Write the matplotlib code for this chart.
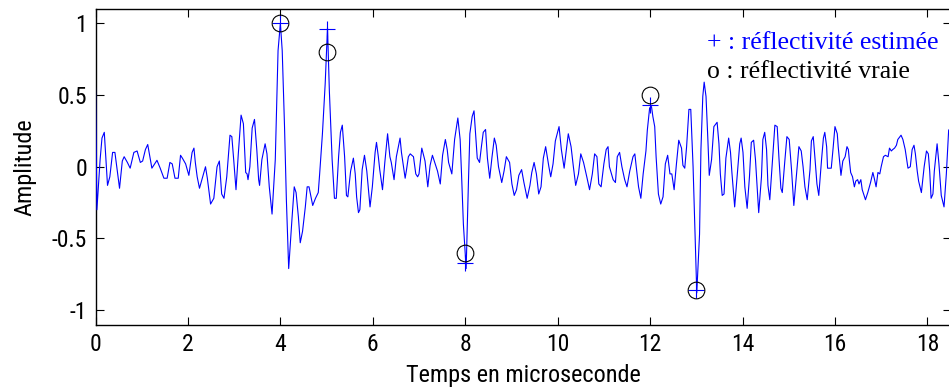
import matplotlib
matplotlib.use("Agg")
import matplotlib.pyplot as plt

# Signal estimé (vertices du tracé) : temps en µs, amplitude
t_sig = [0.00, 0.03, 0.10, 0.14, 0.19, 0.26, 0.31, 0.37, 0.42, 0.52, 0.58, 0.62, 0.69, 0.75, 0.83, 0.90,
         0.97, 1.02, 1.08, 1.13, 1.22, 1.33, 1.40, 1.48, 1.55, 1.61, 1.66, 1.72, 1.79, 1.84, 1.88, 1.95,
         2.02, 2.09, 2.13, 2.16, 2.20, 2.25, 2.31, 2.38, 2.42, 2.49, 2.56, 2.63, 2.68, 2.73, 2.78, 2.84,
         2.91, 2.95, 2.99, 3.04, 3.09, 3.15, 3.20, 3.25, 3.28, 3.30, 3.34, 3.39, 3.44, 3.49, 3.53, 3.55,
         3.60, 3.67, 3.71, 3.76, 3.82, 3.89, 3.95, 4.00, 4.04, 4.09, 4.13, 4.18, 4.25, 4.30, 4.34, 4.39,
         4.43, 4.48, 4.54, 4.58, 4.62, 4.70, 4.76, 4.82, 4.85, 4.91, 4.97, 5.02, 5.06, 5.12, 5.17, 5.21,
         5.26, 5.30, 5.34, 5.39, 5.43, 5.46, 5.52, 5.58, 5.62, 5.65, 5.69, 5.72, 5.77, 5.82, 5.87, 5.94,
         5.99, 6.05, 6.08, 6.12, 6.15, 6.21, 6.26, 6.32, 6.37, 6.40, 6.46, 6.51, 6.59, 6.62, 6.70, 6.73,
         6.77, 6.81, 6.88, 6.93, 6.97, 7.00, 7.06, 7.13, 7.19, 7.24, 7.29, 7.35, 7.40, 7.46, 7.51, 7.57,
         7.61, 7.64, 7.71, 7.77, 7.84, 7.89, 7.92, 7.96, 8.02, 8.07, 8.10, 8.15, 8.19, 8.22, 8.26, 8.31,
         8.35, 8.39, 8.44, 8.48, 8.53, 8.58, 8.63, 8.67, 8.72, 8.79, 8.84, 8.89, 8.96, 9.01, 9.06, 9.11,
         9.16, 9.22, 9.27, 9.34, 9.40, 9.44, 9.49, 9.54, 9.59, 9.64, 9.69, 9.74, 9.81, 9.85, 9.90, 9.95,
         10.03, 10.08, 10.14, 10.19, 10.23, 10.29, 10.34, 10.39, 10.45, 10.50, 10.56, 10.63, 10.69, 10.75,
         10.80, 10.85, 10.89, 10.94, 11.00, 11.05, 11.09, 11.12, 11.20, 11.25, 11.29, 11.34, 11.39, 11.45,
         11.50, 11.56, 11.63, 11.67, 11.70, 11.75, 11.80, 11.85, 11.91, 11.94, 11.99, 12.03, 12.06, 12.10,
         12.13, 12.18, 12.23, 12.28, 12.33, 12.38, 12.43, 12.47, 12.52, 12.57, 12.62, 12.68, 12.71, 12.75,
         12.79, 12.84, 12.88, 12.93, 12.98, 13.01, 13.07, 13.10, 13.14, 13.17, 13.21, 13.25, 13.28, 13.33,
         13.38, 13.45, 13.49, 13.52, 13.56, 13.60, 13.64, 13.70, 13.74, 13.77, 13.83, 13.89, 13.94, 13.97,
         14.01, 14.05, 14.10, 14.15, 14.19, 14.24, 14.28, 14.32, 14.35, 14.41, 14.44, 14.48, 14.52, 14.55,
         14.59, 14.65, 14.70, 14.75, 14.79, 14.83, 14.86, 14.91, 14.96, 15.01, 15.06, 15.11, 15.17, 15.22,
         15.27, 15.31, 15.35, 15.40, 15.46, 15.49, 15.53, 15.57, 15.61, 15.65, 15.71, 15.75, 15.78, 15.82,
         15.84, 15.92, 15.96, 16.00, 16.05, 16.07, 16.13, 16.17, 16.22, 16.26, 16.29, 16.31, 16.34, 16.38,
         16.42, 16.45, 16.49, 16.52, 16.56, 16.59, 16.66, 16.71, 16.77, 16.82, 16.85, 16.89, 16.93, 16.97,
         17.00, 17.05, 17.09, 17.15, 17.18, 17.22, 17.25, 17.29, 17.33, 17.36, 17.43, 17.47, 17.52, 17.58,
         17.63, 17.67, 17.71, 17.74, 17.78, 17.81, 17.87, 17.93, 17.98, 18.02, 18.05, 18.08, 18.12, 18.15,
         18.21, 18.25, 18.30, 18.36, 18.41, 18.46, 18.50]

a_sig = [0.55, -0.30, 0.05, 0.20, 0.24, -0.13, -0.07, 0.10, 0.10, -0.15, 0.04, 0.07, 0.03, -0.01, 0.10, 0.11,
         0.03, 0.04, 0.12, 0.155, -0.01, 0.045, -0.01, -0.08, -0.08, 0.03, 0.02, -0.08, -0.08, 0.08, 0.06, 0.02,
         -0.06, 0.10, 0.13, 0.03, -0.07, -0.15, -0.08, 0.00, -0.08, -0.26, -0.22, 0.00, 0.04, -0.19, -0.22, -0.07,
         0.22, 0.21, 0.05, -0.16, 0.09, 0.36, 0.30, -0.04, -0.05, -0.09, 0.00, 0.27, 0.33, 0.12, -0.09, -0.13,
         0.05, 0.16, 0.09, -0.14, -0.33, 0.05, 0.81, 1.00, 0.81, 0.28, -0.23, -0.71, -0.37, -0.14, -0.18, -0.35,
         -0.53, -0.45, -0.28, -0.14, -0.14, -0.27, -0.22, -0.18, -0.05, 0.23, 0.58, 0.97, 0.53, 0.05, -0.22, -0.22,
         0.07, 0.24, 0.29, 0.07, -0.20, -0.21, -0.03, 0.06, -0.05, -0.21, -0.32, -0.30, -0.02, 0.08, -0.03, -0.28,
         -0.14, 0.10, 0.17, 0.07, -0.02, -0.16, 0.03, 0.23, 0.07, 0.03, -0.09, 0.07, 0.20, 0.10, -0.08, -0.02,
         0.07, 0.09, 0.07, -0.05, -0.07, -0.05, 0.13, 0.04, -0.14, 0.01, 0.08, 0.02, -0.03, -0.12, 0.08, 0.19,
         0.12, 0.03, -0.05, 0.19, 0.34, 0.19, -0.05, -0.40, -0.71, -0.10, 0.23, 0.35, 0.39, 0.25, 0.06, 0.03,
         0.14, 0.24, 0.26, 0.06, -0.08, 0.07, 0.20, 0.15, 0.00, -0.11, -0.03, 0.07, 0.03, -0.12, -0.20, -0.16,
         -0.06, -0.02, -0.11, -0.22, -0.13, -0.04, 0.03, -0.05, -0.19, -0.14, 0.06, 0.14, 0.00, -0.07, 0.02, 0.18,
         0.28, 0.12, -0.01, 0.12, 0.23, 0.14, 0.00, -0.13, -0.05, 0.09, 0.03, -0.07, -0.16, -0.05,
         0.09, 0.07, -0.12, -0.14, 0.02, 0.12, 0.14, 0.00, -0.09, -0.11, 0.07, 0.10, 0.00, -0.09,
         -0.14, -0.03, 0.07, 0.09, 0.00, -0.14, -0.22, -0.05, 0.11, 0.255, 0.41, 0.42, 0.35, 0.28,
         0.07, -0.19, -0.26, -0.21, 0.02, 0.08, -0.05, -0.05, -0.16, 0.02, 0.185, 0.13, 0.01, -0.01,
         0.14, 0.40, 0.40, 0.00, -0.56, -0.88, -0.47, 0.12, 0.49, 0.59, 0.49, 0.19, -0.06, 0.05,
         0.28, 0.31, 0.16, -0.05, -0.20, -0.19, 0.06, 0.20, 0.10, -0.04, -0.28, -0.04, 0.16, 0.20,
         0.10, -0.14, -0.29, -0.07, 0.17, 0.185, 0.05, -0.16, -0.32, -0.07, 0.19, 0.24, 0.12, -0.13,
         -0.23, 0.05, 0.29, 0.28, 0.05, -0.15, -0.18, 0.02, 0.21, 0.19, -0.02, -0.27, -0.05, 0.14,
         0.11, 0.00, -0.14, -0.23, -0.02, 0.18, 0.21, 0.05, -0.12, -0.20, 0.05, 0.20, 0.24, 0.14,
         -0.01, -0.01, 0.13, 0.28, 0.23, 0.14, -0.06, 0.04, 0.07, 0.14, 0.12, 0.05, -0.04, -0.07,
         -0.14, -0.10, -0.09, -0.12, -0.09, -0.16, -0.23, -0.18, -0.11, -0.04, -0.08, -0.14, -0.04, -0.05,
         0.00, 0.07, 0.08, 0.07, 0.13, 0.11, 0.12, 0.13, 0.15, 0.19, 0.22, 0.19, 0.12, -0.01,
         0.00, 0.12, 0.15, 0.09, -0.03, -0.10, -0.18, 0.00, 0.11, 0.09, -0.03, -0.22, -0.19, -0.03,
         0.16, 0.02, -0.20, -0.28, -0.05, 0.255, 0.27]

# Réflectivités aux instants des interfaces
t_refl = [4, 5, 8, 12, 13]
refl_vraie = [1.00, 0.80, -0.60, 0.50, -0.86]
refl_estimee = [1.00, 0.96, -0.67, 0.43, -0.86]

x_ticks = [0, 2, 4, 6, 8, 10, 12, 14, 16, 18]
y_ticks = [-1, -0.5, 0, 0.5, 1]
y_ticklabels = ["-1", "-0.5", "0", "0.5", "1"]

sans = ["Roboto Condensed", "Archivo Narrow", "Liberation Sans", "DejaVu Sans"]
serif = ["Liberation Serif", "DejaVu Serif"]

fig = plt.figure(figsize=(9.49, 3.87), dpi=100)
ax = fig.add_axes([95.5 / 949, 1 - 324.5 / 387, 855 / 949, 315.5 / 387])

ax.plot(t_sig, a_sig, color="blue", lw=0.8, zorder=3)
ax.plot(t_refl, refl_estimee, ls="none", marker="+", ms=12, mew=0.8, color="blue", zorder=4)
ax.plot(t_refl, refl_vraie, ls="none", marker="o", ms=12, mew=0.8, mfc="none", mec="black", zorder=4)

ax.set_xlim(0, 18.5)
ax.set_ylim(-1.1, 1.1)
ax.set_xticks(x_ticks)
ax.set_xticklabels([str(v) for v in x_ticks], family=sans, fontsize=17)
ax.set_yticks(y_ticks)
ax.set_yticklabels(y_ticklabels, family=sans, fontsize=17)
ax.tick_params(direction="in", top=True, right=True, length=6, width=0.8, pad=6)
for s in ax.spines.values():
    s.set_linewidth(1.0)

ax.set_xlabel("Temps en microseconde", family=sans, fontsize=17.5, labelpad=6)
ax.set_ylabel("Amplitude", family=sans, fontsize=17.5, labelpad=11)

ax.text(13.23, 0.82, "+ : réflectivité estimée", color="blue", family=serif, fontsize=18.5, va="baseline")
ax.text(13.23, 0.62, "o : réflectivité vraie", color="black", family=serif, fontsize=18.5, va="baseline")

fig.savefig("out.png", dpi=100)
